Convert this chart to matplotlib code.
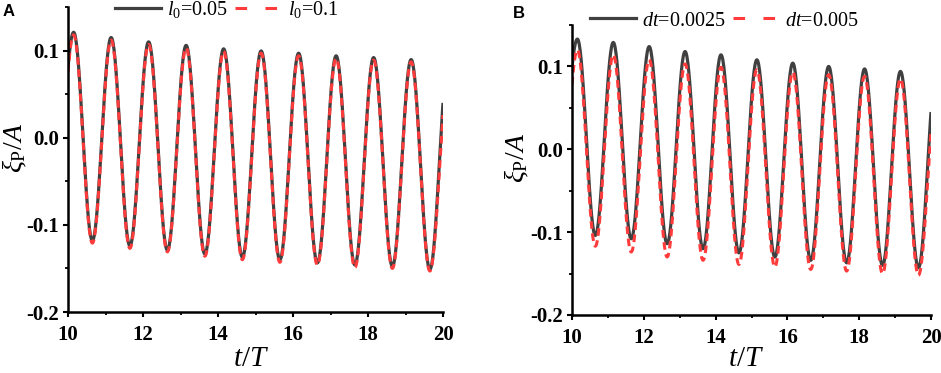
import numpy as np
import matplotlib
matplotlib.use("Agg")
import matplotlib.pyplot as plt
from matplotlib.lines import Line2D
from matplotlib.ticker import MultipleLocator, FormatStrFormatter

# ---------------- data ----------------
# extremum times (t/T) and values (xi_P/A)
t_peaks = [10.15, 11.15, 12.15, 13.15, 14.15, 15.15, 16.15, 17.15, 18.15, 19.15]
t_troughs = [10.65, 11.65, 12.65, 13.65, 14.65, 15.65, 16.65, 17.65, 18.65, 19.65]

# Panel A : l0 = 0.05 (solid) / l0 = 0.1 (dashed)
A_l005_start, A_l005_end = 0.080, 0.040
A_l005_peaks = [0.121, 0.115, 0.110, 0.106, 0.102, 0.0996, 0.097, 0.094, 0.092, 0.0897]
A_l005_troughs = [-0.118, -0.124, -0.129, -0.1335, -0.137, -0.140, -0.1437, -0.146, -0.1475, -0.151]
A_l01_start, A_l01_end = 0.075, 0.026
A_l01_peaks = [0.118, 0.112, 0.107, 0.103, 0.099, 0.097, 0.094, 0.091, 0.089, 0.087]
A_l01_troughs = [-0.121, -0.127, -0.131, -0.136, -0.140, -0.143, -0.146, -0.149, -0.150, -0.153]

# Panel B : dt = 0.0025 (solid) / dt = 0.005 (dashed)
B_dt1_start, B_dt1_end = 0.099, 0.045
B_dt1_peaks = [0.133, 0.129, 0.124, 0.118, 0.114, 0.108, 0.104, 0.100, 0.097, 0.094]
B_dt1_troughs = [-0.104, -0.108, -0.114, -0.120, -0.125, -0.130, -0.134, -0.137, -0.140, -0.143]
B_dt2_start, B_dt2_end = 0.078, 0.020
B_dt2_peaks = [0.120, 0.114, 0.108, 0.103, 0.099, 0.096, 0.093, 0.090, 0.088, 0.085]
B_dt2_troughs = [-0.117, -0.124, -0.130, -0.134, -0.139, -0.142, -0.145, -0.147, -0.150, -0.152]

labels_A = [r"$l_0$=0.05", r"$l_0$=0.1"]
labels_B = [r"$dt$=0.0025", r"$dt$=0.005"]
x_ticks = [10, 12, 14, 16, 18, 20]
y_ticks = [-0.2, -0.1, 0.0, 0.1]

# ---------------- style ----------------
plt.rcParams["font.family"] = ["Liberation Serif", "DejaVu Serif"]
plt.rcParams["mathtext.fontset"] = "custom"
plt.rcParams["mathtext.rm"] = "Liberation Serif"
plt.rcParams["mathtext.it"] = "Liberation Serif:italic"
plt.rcParams["mathtext.bf"] = "Liberation Serif:bold"
plt.rcParams["axes.unicode_minus"] = False

BLACK = "#404040"
RED = "#ff3b3b"
LW_B = 2.3
LW_R = 2.2


def trace(t0, y0, tp, yp, tt, yt, t1, y1, half=0.5, n=40):
    """Smooth half-cosine path through the read extrema."""
    tk = [t0]
    yk = [y0]
    for a, b, c, d in zip(tp, yp, tt, yt):
        tk += [a, c]
        yk += [b, d]
    tk.append(t1)
    yk.append(y1)
    T, Y = [], []
    m = len(tk) - 1
    for i in range(m):
        ta, tb, ya, yb = tk[i], tk[i + 1], yk[i], yk[i + 1]
        if i == 0:
            sa, sb = 1 - (tb - ta) / half, 1.0
        elif i == m - 1:
            sa, sb = 0.0, (tb - ta) / half
        else:
            sa, sb = 0.0, 1.0
        s = np.linspace(sa, sb, n)
        f = (1 - np.cos(np.pi * s)) / 2
        g = (f - f[0]) / (f[-1] - f[0])
        T.append(ta + (tb - ta) * (s - sa) / (sb - sa))
        Y.append(ya + (yb - ya) * g)
    return np.concatenate(T), np.concatenate(Y)


fig = plt.figure(figsize=(9.41, 3.73), dpi=100)
W, H = 941.0, 373.0


def px_axes(l, t, r, b):
    return fig.add_axes([l / W, 1 - b / H, (r - l) / W, (b - t) / H])


axA = px_axes(68, 7, 443, 312)
axB = px_axes(572, 25, 931, 315)


def style(ax):
    ax.set_xlim(10, 20)
    ax.set_ylim(-0.2, 0.15)
    ax.set_xticks(x_ticks)
    ax.set_yticks(y_ticks)
    ax.xaxis.set_minor_locator(MultipleLocator(1))
    ax.yaxis.set_minor_locator(MultipleLocator(0.05))
    ax.yaxis.set_major_formatter(FormatStrFormatter("%.1f"))
    for s in ["top", "right"]:
        ax.spines[s].set_visible(False)
    for s in ["left", "bottom"]:
        ax.spines[s].set_linewidth(1.8)
        ax.spines[s].set_color("black")
    ax.tick_params(which="major", direction="out", length=3.6, width=1.5)
    ax.tick_params(which="minor", direction="out", length=2.2, width=1.3)
    ax.tick_params(axis="x", which="major", pad=6)
    ax.tick_params(axis="y", which="major", pad=3)
    for lab in ax.get_xticklabels() + ax.get_yticklabels():
        lab.set_fontsize(15)
        lab.set_fontweight("bold")


def draw(ax, s1, s2, labels, legend_xy):
    ta, ya = trace(*s1)
    tb, yb = trace(*s2)
    ax.plot(ta, ya, color=BLACK, lw=LW_B, solid_capstyle="butt")
    ax.plot(tb, yb, color=RED, lw=LW_R, linestyle=(0, (2.5, 1.5)))
    h1 = Line2D([], [], color=BLACK, lw=LW_B)
    h2 = Line2D([], [], color=RED, lw=LW_R, linestyle=(0, (3.8, 6.0)))
    ax.legend([h1, h2], labels, loc="center left",
              bbox_to_anchor=(legend_xy[0] / W, 1 - legend_xy[1] / H),
              bbox_transform=fig.transFigure, ncol=2, frameon=False,
              borderpad=0, borderaxespad=0, handlelength=2.3,
              handletextpad=0.3, columnspacing=0.35,
              prop={"family": "Liberation Serif", "size": 14.5})


draw(axA,
     (10, A_l005_start, t_peaks, A_l005_peaks, t_troughs, A_l005_troughs, 20, A_l005_end),
     (10, A_l01_start, t_peaks, A_l01_peaks, t_troughs, A_l01_troughs, 20, A_l01_end),
     labels_A, (115, 10))
draw(axB,
     (10, B_dt1_start, t_peaks, B_dt1_peaks, t_troughs, B_dt1_troughs, 20, B_dt1_end),
     (10, B_dt2_start, t_peaks, B_dt2_peaks, t_troughs, B_dt2_troughs, 20, B_dt2_end),
     labels_B, (590, 21))
style(axA)
style(axB)

# axis labels
for cx in (251.5, 746.5):
    fig.text(cx / W, 1 - 366 / H, r"$t/T$", ha="center", va="baseline", fontsize=21)
for cx, cy in ((15, 148), (517, 158)):
    fig.text(cx / W, 1 - cy / H, r"$\xi_{\mathrm{P}}/A$", ha="center", va="center",
             rotation=90, fontsize=20)

# panel letters
fig.text(3 / W, 1 - 16.5 / H, "A", fontsize=12, fontweight="bold",
         family=["Liberation Sans", "DejaVu Sans"], va="baseline")
fig.text(513 / W, 1 - 18 / H, "B", fontsize=12, fontweight="bold",
         family=["Liberation Sans", "DejaVu Sans"], va="baseline")

fig.savefig("out.png", dpi=100)
